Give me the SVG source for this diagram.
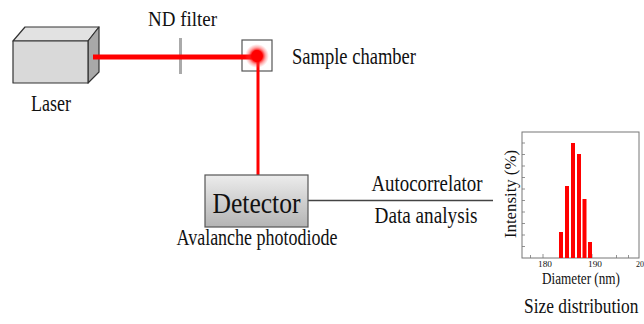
<svg xmlns="http://www.w3.org/2000/svg" width="644" height="324" viewBox="0 0 644 324">
  <style>
    .t { font-family: "Liberation Serif", "Times New Roman", serif; fill: #111; }
    .beam { stroke: #ff0000; fill: none; }
    .edge { stroke: #333; stroke-width: 1.2; stroke-linejoin: round; }
    .axis { stroke: #777; stroke-width: 1; fill: none; }
    .bar { fill: #ff0000; }
    .tick { stroke: #777; stroke-width: 0.8; }
  </style>
  <defs>
    <linearGradient id="detFill" x1="0" y1="0" x2="0" y2="1">
      <stop offset="0" stop-color="#ececec"/>
      <stop offset="1" stop-color="#b4b4b4"/>
    </linearGradient>
    <radialGradient id="glow" cx="0.5" cy="0.5" r="0.5">
      <stop offset="0" stop-color="#ff0000" stop-opacity="1"/>
      <stop offset="0.45" stop-color="#ff0000" stop-opacity="1"/>
      <stop offset="0.7" stop-color="#ff3030" stop-opacity="0.45"/>
      <stop offset="1" stop-color="#ff6060" stop-opacity="0"/>
    </radialGradient>
  </defs>

  <!-- laser source: box in oblique view -->
  <g id="laser">
    <polygon class="edge" points="13,41 25,27 99,27 88,41" fill="#e2e2e2"/>
    <polygon class="edge" points="88,41 99,27 99,72 88,83" fill="#a8a8a8"/>
    <rect class="edge" x="13" y="41" width="75" height="42" fill="#d9d9d9"/>
    <text class="t" x="51" y="110.5" font-size="23" text-anchor="middle" textLength="40" lengthAdjust="spacingAndGlyphs">Laser</text>
  </g>

  <!-- neutral density filter -->
  <g id="nd-filter">
    <rect x="179" y="38" width="3" height="36" fill="#aaaaaa"/>
    <text class="t" x="182.5" y="26" font-size="21" text-anchor="middle" textLength="69" lengthAdjust="spacingAndGlyphs">ND filter</text>
  </g>

  <!-- sample cell with scattering spot -->
  <g id="sample-chamber">
    <rect x="242" y="40" width="30" height="31" fill="#ffffff" stroke="#555" stroke-width="1.2"/>
    <text class="t" x="292" y="63.5" font-size="23" textLength="124" lengthAdjust="spacingAndGlyphs">Sample chamber</text>
  </g>

  <!-- beam paths and signal line -->
  <g id="connectors">
    <line class="beam" x1="93" y1="57" x2="257" y2="57" stroke-width="5"/>
    <line class="beam" x1="258" y1="57" x2="258" y2="175" stroke-width="3"/>
    <line x1="308" y1="200.5" x2="493" y2="200.5" stroke="#444" stroke-width="1.5"/>
  </g>

  <g id="scatter-spot">
    <circle cx="257" cy="56" r="12" fill="url(#glow)"/>
    <ellipse cx="257" cy="56" rx="5" ry="6" fill="#ff0000"/>
  </g>

  <!-- detector -->
  <g id="detector">
    <rect x="205" y="175" width="103" height="52" fill="url(#detFill)" stroke="#555" stroke-width="1.2"/>
    <text class="t" x="256.5" y="213" font-size="29" text-anchor="middle" textLength="88" lengthAdjust="spacingAndGlyphs">Detector</text>
    <text class="t" x="257" y="245" font-size="23" text-anchor="middle" textLength="161" lengthAdjust="spacingAndGlyphs">Avalanche photodiode</text>
  </g>

  <!-- processing labels -->
  <g id="processing">
    <text class="t" x="427" y="190.5" font-size="23" text-anchor="middle" textLength="111" lengthAdjust="spacingAndGlyphs">Autocorrelator</text>
    <text class="t" x="426" y="222.5" font-size="23" text-anchor="middle" textLength="103" lengthAdjust="spacingAndGlyphs">Data analysis</text>
  </g>

  <!-- size distribution histogram -->
  <g id="size-distribution">
    <rect class="axis" x="522" y="132" width="117" height="126"/>
    <g class="tick">
      <line x1="522" y1="143" x2="525" y2="143"/>
      <line x1="522" y1="154.5" x2="525" y2="154.5"/>
      <line x1="522" y1="166" x2="525" y2="166"/>
      <line x1="522" y1="177.5" x2="525" y2="177.5"/>
      <line x1="522" y1="189" x2="525" y2="189"/>
      <line x1="522" y1="200.5" x2="525" y2="200.5"/>
      <line x1="522" y1="212" x2="525" y2="212"/>
      <line x1="522" y1="223.5" x2="525" y2="223.5"/>
      <line x1="522" y1="235" x2="525" y2="235"/>
      <line x1="522" y1="246.5" x2="525" y2="246.5"/>
      <line x1="530.5" y1="258" x2="530.5" y2="255"/>
      <line x1="543" y1="258" x2="543" y2="254"/>
      <line x1="567.5" y1="258" x2="567.5" y2="255"/>
      <line x1="592" y1="258" x2="592" y2="254"/>
      <line x1="616.5" y1="258" x2="616.5" y2="255"/>
      <line x1="628.5" y1="258" x2="628.5" y2="255"/>
    </g>
    <rect class="bar" x="559" y="232" width="4" height="26"/>
    <rect class="bar" x="565" y="186" width="4" height="72"/>
    <rect class="bar" x="571" y="143" width="4" height="115"/>
    <rect class="bar" x="577" y="154" width="4" height="104"/>
    <rect class="bar" x="582.5" y="199" width="4" height="59"/>
    <rect class="bar" x="588" y="242" width="4" height="16"/>
    <text class="t" x="545" y="267" font-size="9" text-anchor="middle" textLength="14" lengthAdjust="spacingAndGlyphs">180</text>
    <text class="t" x="595" y="267" font-size="9" text-anchor="middle" textLength="14" lengthAdjust="spacingAndGlyphs">190</text>
    <text class="t" x="636" y="267" font-size="9" textLength="8" lengthAdjust="spacingAndGlyphs">20</text>
    <text class="t" x="581" y="284" font-size="17" text-anchor="middle" textLength="78" lengthAdjust="spacingAndGlyphs">Diameter (nm)</text>
    <text class="t" transform="translate(516,194) rotate(-90)" font-size="17" text-anchor="middle" textLength="88" lengthAdjust="spacingAndGlyphs">Intensity (%)</text>
    <text class="t" transform="translate(524,313) scale(1,1.25)" font-size="17.4">Size distribution</text>
  </g>
</svg>
